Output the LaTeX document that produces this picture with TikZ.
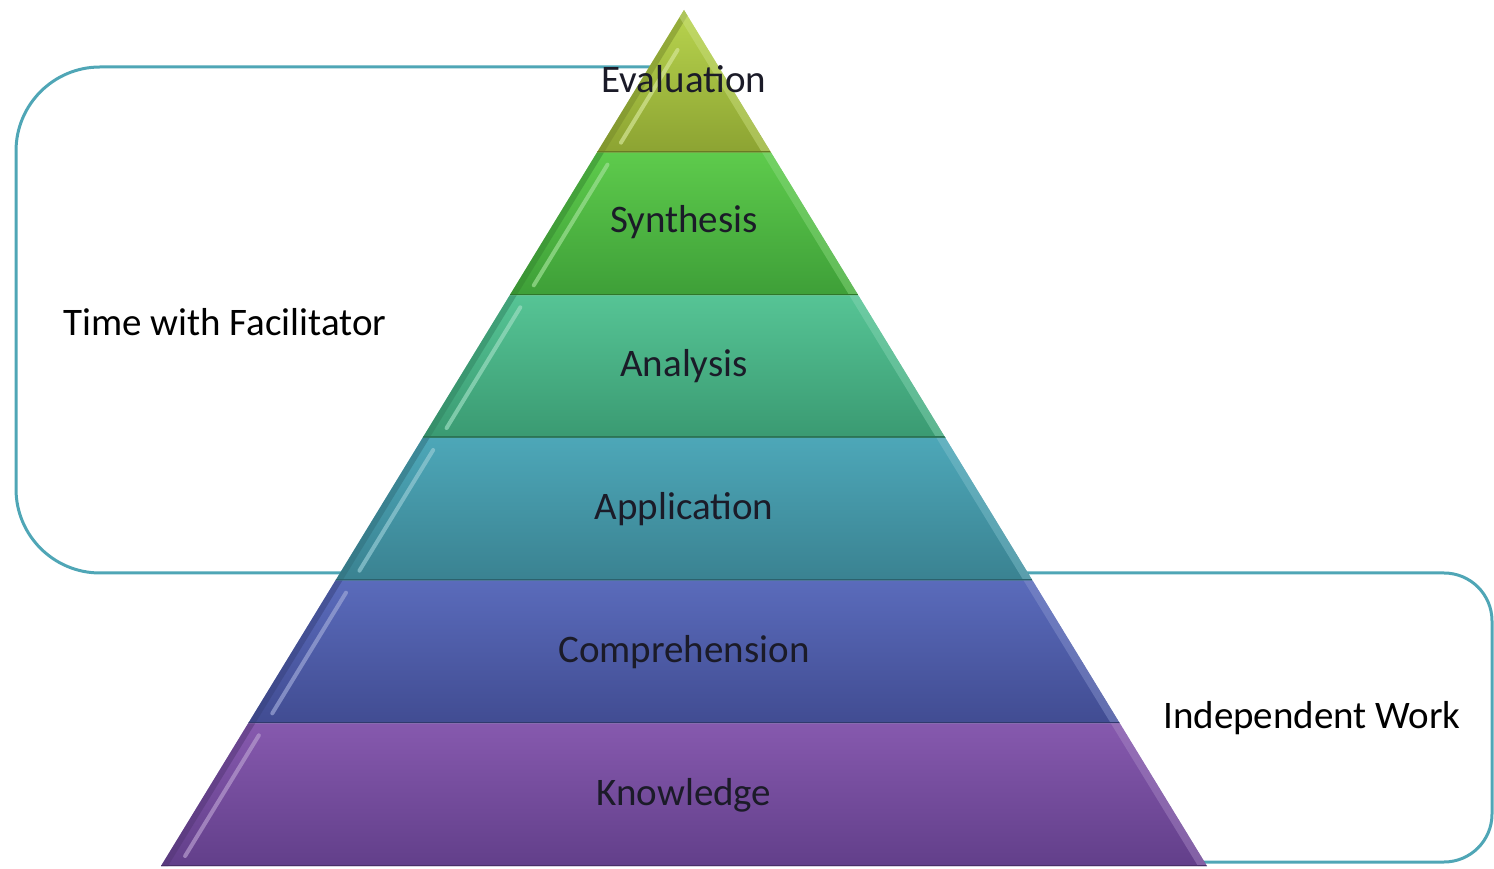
\documentclass[tikz,border=0pt]{standalone}
\usepackage{fontspec}
\setmainfont{Carlito}
\definecolor{brk}{HTML}{4FA6B6}
\definecolor{evA}{HTML}{B8D44E}\definecolor{evB}{HTML}{8CA332}
\definecolor{syA}{HTML}{5ECB4C}\definecolor{syB}{HTML}{3E9F38}
\definecolor{anA}{HTML}{56C495}\definecolor{anB}{HTML}{3A9A72}
\definecolor{apA}{HTML}{4DA7B8}\definecolor{apB}{HTML}{3A8291}
\definecolor{coA}{HTML}{5A6BBB}\definecolor{coB}{HTML}{414C92}
\definecolor{knA}{HTML}{8659AE}\definecolor{knB}{HTML}{623F8A}
\definecolor{txt}{HTML}{1B1B28}
\begin{document}
\begin{tikzpicture}[x=0.5pt,y=0.5pt,
  bracket/.style={draw=brk, line width=1.5pt},
  lvl/.style={font=\fontsize{19.5}{22}\selectfont, text=txt, inner sep=0pt},
  side/.style={font=\fontsize{19.5}{22}\selectfont, text=black, inner sep=0pt}]
\useasboundingbox (0,0) rectangle (1494,868);
% brackets (behind pyramid)
\draw[bracket, rounded corners=42pt] (684,801) -- (16,801) -- (16,295) -- (684,295);
\draw[bracket, rounded corners=24pt] (684,295) -- (1492,295) -- (1492,6) -- (684,6);
% layers
\foreach \i/\ca/\cb/\dt in {0/evA/evB/40,1/syA/syB/12,2/anA/anB/12,3/apA/apB/12,4/coA/coB/12,5/knA/knB/12}{
  \pgfmathsetmacro\yt{858-\i*142.667}
  \pgfmathsetmacro\yb{858-(\i+1)*142.667}
  \pgfmathsetmacro\wt{0.61098*(858-\yt)}
  \pgfmathsetmacro\wb{0.61098*(858-\yb)}
  \begin{scope}
  \clip (684-\wt,\yt) -- (684+\wt,\yt) -- (684+\wb,\yb) -- (684-\wb,\yb) -- cycle;
  \shade[top color=\ca, bottom color=\cb] (684-\wt,\yt) -- (684+\wt,\yt) -- (684+\wb,\yb) -- (684-\wb,\yb) -- cycle;
  % outer edge bands
  \fill[\cb!85!black, opacity=0.5] (684-\wt,\yt) -- (684-\wt+7,\yt) -- (684-\wb+7,\yb) -- (684-\wb,\yb) -- cycle;
  \fill[\ca!70!white, opacity=0.45] (684+\wt,\yt) -- (684+\wt-9,\yt) -- (684+\wb-9,\yb) -- (684+\wb,\yb) -- cycle;
  % inner highlight on left
  \draw[\ca!60!white, line width=2pt, line cap=round, opacity=0.7]
    (684-\wt-0.61098*\dt+18,\yt-\dt) -- (684-\wb+0.61098*10+18,\yb+10);
  % bottom edge
  \draw[\cb!75!black, line width=1.5pt] (684-\wb,\yb) -- (684+\wb,\yb);
  \end{scope}
}
% labels
\node[lvl] (eval) at (684,789) {Evaluation};
\node[lvl] (syn) at (684,646) {Synthesis};
\node[lvl] (ana) at (684,502) {Analysis};
\node[lvl] (app) at (684,359) {Application};
\node[lvl] (comp) at (684,216) {Comprehension};
\node[lvl] (know) at (684,73) {Knowledge};
\node[side] (fac) at (225,546) {Time with Facilitator};
\node[side] (ind) at (1312,150) {Independent Work};
\end{tikzpicture}
\end{document}
